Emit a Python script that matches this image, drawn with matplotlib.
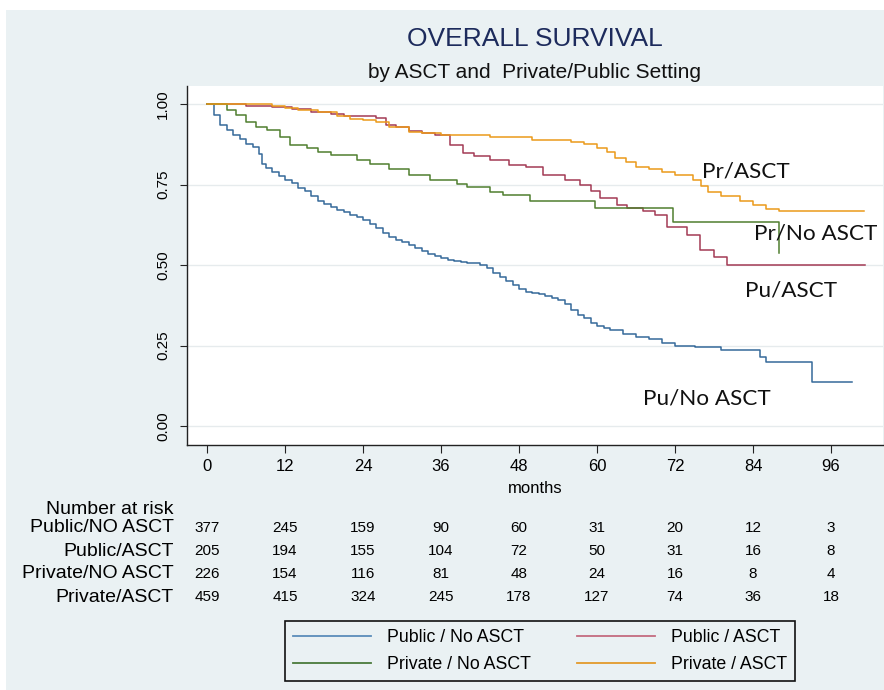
import matplotlib
matplotlib.use("Agg")
import matplotlib.pyplot as plt
from matplotlib.lines import Line2D
from matplotlib.patches import Rectangle

# --- data ---
months_ticks = [0, 12, 24, 36, 48, 60, 72, 84, 96]

pu_no_t = [0, 1, 2, 3, 4, 5, 6, 7, 8, 8.5, 9, 10, 11, 12, 13, 14, 15, 16, 17, 18, 19, 20,
           21, 22, 23, 24, 25, 26, 27, 28, 29, 30, 31, 32, 33, 34, 35, 36, 37, 38, 39, 40,
           41, 42, 43, 44, 45, 46, 47, 48, 49, 50, 51, 52, 53, 54, 55, 56, 57, 58, 59, 60,
           61, 62, 64, 66, 68, 70, 72, 75, 79, 85, 86, 93, 99.2]
pu_no_s = [1.0, 0.965, 0.935, 0.92, 0.905, 0.89, 0.875, 0.865, 0.845, 0.815, 0.80, 0.79, 0.775,
           0.765, 0.755, 0.74, 0.73, 0.715, 0.70, 0.69, 0.68, 0.672, 0.665, 0.655, 0.648, 0.64,
           0.628, 0.615, 0.60, 0.588, 0.578, 0.57, 0.562, 0.552, 0.544, 0.535, 0.528, 0.522,
           0.517, 0.513, 0.51, 0.507, 0.505, 0.50, 0.49, 0.475, 0.462, 0.45, 0.438, 0.425,
           0.415, 0.413, 0.41, 0.405, 0.398, 0.39, 0.378, 0.36, 0.345, 0.335, 0.32, 0.31,
           0.303, 0.298, 0.285, 0.275, 0.27, 0.258, 0.25, 0.245, 0.235, 0.215, 0.198, 0.138,
           0.138]

pu_asct_t = [0, 4, 6, 10, 13, 16, 19, 21, 26, 27.5, 29, 31, 33, 35, 37.4, 39.4, 41, 43.5,
             46.5, 49, 51.7, 55, 57.4, 59, 60.5, 63, 64.6, 67, 68.9, 70.7, 73.8, 75.8, 78,
             80, 101.2]
pu_asct_s = [1.0, 1.0, 0.995, 0.99, 0.985, 0.975, 0.968, 0.963, 0.957, 0.935, 0.93, 0.915,
             0.91, 0.905, 0.873, 0.848, 0.84, 0.826, 0.81, 0.805, 0.78, 0.765, 0.748, 0.73,
             0.708, 0.686, 0.676, 0.668, 0.655, 0.618, 0.593, 0.548, 0.525, 0.50, 0.50]

pr_no_t = [0, 1.5, 3, 4.5, 6, 7.5, 9.2, 11.2, 12.8, 15.4, 17, 19, 23, 25, 28, 31, 34.3,
           38.5, 40, 43.5, 45.6, 49.7, 59.7, 71.7, 88, 88.01]
pr_no_s = [1.0, 1.0, 0.98, 0.965, 0.944, 0.93, 0.919, 0.898, 0.873, 0.863, 0.852, 0.841,
           0.826, 0.815, 0.798, 0.78, 0.764, 0.752, 0.742, 0.727, 0.717, 0.70, 0.677, 0.634,
           0.537, 0.537]

pr_asct_t = [0, 9, 10, 12, 14, 17, 20, 22, 24, 26, 28, 31, 33, 36, 43.5, 50, 56, 58, 60,
             61.5, 62.8, 64.5, 66, 68, 70, 72, 74.8, 76, 77, 79, 82, 84, 86, 88, 101]
pr_asct_s = [1.0, 1.0, 0.995, 0.988, 0.981, 0.975, 0.963, 0.955, 0.95, 0.945, 0.93, 0.913,
             0.91, 0.904, 0.897, 0.888, 0.882, 0.875, 0.863, 0.85, 0.832, 0.82, 0.805, 0.797,
             0.79, 0.78, 0.764, 0.745, 0.727, 0.715, 0.70, 0.686, 0.675, 0.668, 0.668]

risk_labels = ["Public/NO ASCT", "Public/ASCT", "Private/NO ASCT", "Private/ASCT"]
risk_pu_no = [377, 245, 159, 90, 60, 31, 20, 12, 3]
risk_pu_asct = [205, 194, 155, 104, 72, 50, 31, 16, 8]
risk_pr_no = [226, 154, 116, 81, 48, 24, 16, 8, 4]
risk_pr_asct = [459, 415, 324, 245, 178, 127, 74, 36, 18]

legend_labels = ["Public / No ASCT", "Public / ASCT", "Private / No ASCT", "Private / ASCT"]

# colours
c_blue = "#35699a"
c_red = "#a33a55"
c_green = "#4f7f2f"
c_orange = "#eb9a1a"
bg = "#eaf1f3"

stata_font = "Liberation Sans"
label_font = "Lato"

fig = plt.figure(figsize=(8.84, 6.9), dpi=100)
fig.patch.set_facecolor("white")
fig.patches.append(Rectangle((6 / 884, 0), 1, 1 - 10 / 690, transform=fig.transFigure,
                             facecolor=bg, edgecolor="none", zorder=-10))

ax = fig.add_axes([187 / 884, 1 - 445 / 690, 696 / 884, 359 / 690])
ax.set_facecolor("white")

ax.step(pu_no_t, pu_no_s, where="post", color=c_blue, lw=1.1)
ax.step(pu_asct_t, pu_asct_s, where="post", color=c_red, lw=1.1)
ax.step(pr_no_t, pr_no_s, where="post", color=c_green, lw=1.1)
ax.step(pr_asct_t, pr_asct_s, where="post", color=c_orange, lw=1.1)

ax.set_xlim(-3.08, 104)
ax.set_ylim(-0.059, 1.056)
ax.set_xticks(months_ticks)
ax.set_yticks([0, 0.25, 0.5, 0.75, 1.0])
ax.set_yticklabels(["0.00", "0.25", "0.50", "0.75", "1.00"], rotation=90, va="center",
                   fontfamily=stata_font, fontsize=11)
ax.set_xticklabels([str(m) for m in months_ticks], fontfamily=stata_font, fontsize=12)
ax.tick_params(axis="y", length=5, pad=7, color="#222222")
ax.tick_params(axis="x", length=6, pad=4, color="#222222")
ax.grid(axis="y", color="#e6ebed", lw=1.0)
ax.set_axisbelow(True)
for side in ["top", "right"]:
    ax.spines[side].set_visible(False)
for side in ["left", "bottom"]:
    ax.spines[side].set_color("#222222")
    ax.spines[side].set_linewidth(1.0)
ax.set_xlabel("months", fontfamily=stata_font, fontsize=12, labelpad=5)

# curve labels
lab_kw = dict(fontfamily=label_font, fontsize=16.2, va="center", color="#111111")
ax.text(76.2, 0.789, "Pr/ASCT", **lab_kw)
ax.text(84.2, 0.599, "Pr/No ASCT", **lab_kw)
ax.text(82.8, 0.422, "Pu/ASCT", **lab_kw)
ax.text(67.1, 0.084, "Pu/No ASCT", **lab_kw)

# titles
fig.text(535 / 884, 1 - 39 / 690, "OVERALL SURVIVAL", ha="center", va="center",
         fontfamily=stata_font, fontsize=19, color="#1d2b5c")
fig.text(535 / 884, 1 - 72 / 690, "by ASCT and  Private/Public Setting", ha="center",
         va="center", fontfamily=stata_font, fontsize=15, color="#111111")

# number at risk table
fig.text(174 / 884, 1 - 509 / 690, "Number at risk", ha="right", va="center",
         fontfamily=stata_font, fontsize=14)
row_y = [528, 551, 574, 597]
for label, vals, y in zip(risk_labels, [risk_pu_no, risk_pu_asct, risk_pr_no, risk_pr_asct], row_y):
    fig.text(174 / 884, 1 - y / 690, label, ha="right", va="center",
             fontfamily=stata_font, fontsize=14)
    for m, v in zip(months_ticks, vals):
        fig.text(ax.transData.transform((m, 0))[0] / fig.bbox.width, 1 - y / 690, str(v),
                 ha="center", va="center", fontfamily=stata_font, fontsize=11)

# legend
handles = [Line2D([], [], color="#5b8dba", lw=1.3), Line2D([], [], color="#c46c7f", lw=1.3),
           Line2D([], [], color="#4a7a3a", lw=1.3), Line2D([], [], color="#e39a2a", lw=1.3)]
order = [0, 2, 1, 3]
leg = fig.legend([handles[i] for i in order], [legend_labels[i] for i in order], ncol=2,
                 loc="center", bbox_to_anchor=(540 / 884, 1 - 651 / 690),
                 prop={"family": "Liberation Sans", "size": 12.8},
                 handlelength=4.4, handletextpad=0.9, columnspacing=2.6,
                 labelspacing=0.55, borderpad=0.45, fancybox=False, framealpha=1)
leg.get_frame().set_facecolor(bg)
leg.get_frame().set_edgecolor("#111111")
leg.get_frame().set_linewidth(1.2)

fig.savefig("out.png", dpi=100, facecolor=fig.get_facecolor())
